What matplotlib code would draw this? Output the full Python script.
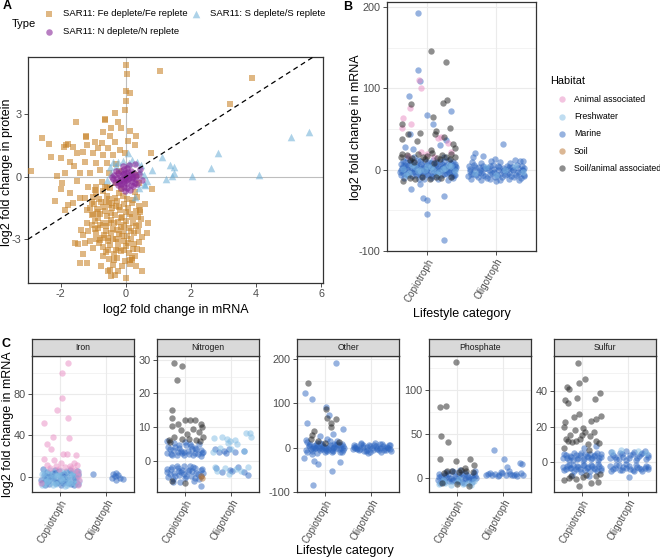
import matplotlib.pyplot as plt

plt.rcParams['font.family'] = ['Liberation Sans', 'DejaVu Sans']
plt.rcParams['axes.unicode_minus'] = False

W, H = 660, 558

# ---------------- panel A: protein vs mRNA fold change ----------------
fe_pts = [
    (0.0, 5.35), (0.05, 4.94), (1.04, 5.08), (3.87, 4.73), (3.19, 3.48), (0.0, 4.1), (0.12, 4.0),
    (0.02, 3.64), (-0.01, 3.2), (-0.34, 3.05), (-0.63, 2.77), (-1.53, 2.64), (-2.58, 1.85),
    (-2.91, 0.27), (-2.12, 0.03), (-2.17, -1.17), (-1.9, 1.44), (-1.77, 1.57), (-1.23, 1.92),
    (-1.41, -4.16), (-1.2, -4.12), (-0.56, -4.52), (-0.44, -4.77), (0.0, -4.86), (0.51, -4.52),
    (-1.48, -3.22), (-1.77, -1.36), (0.81, -0.59), (0.76, 1.12),
    (-0.64, 2.72), (-0.23, 2.64), (-0.44, 2.32), (-0.15, 2.32), (-0.69, 2.16), (0.12, 2.21),
    (-1.22, 1.96), (-0.49, 1.96), (0.31, 1.96), (-0.95, 1.68), (-0.74, 1.6), (-0.34, 1.68),
    (0.07, 1.73), (0.27, 1.52), (-1.82, 1.52), (-1.61, 1.44), (-1.2, 1.52), (-0.85, 1.36),
    (-0.54, 1.36), (-0.18, 1.28), (-1.51, 1.12), (-1.0, 1.12), (-0.69, 1.04), (-0.39, 1.04),
    (-0.03, 1.12), (-1.71, 0.72), (-1.26, 0.72), (-0.9, 0.64), (-0.59, 0.64), (-1.87, 0.16),
    (-1.41, 0.16), (-1.1, 0.16), (-0.8, 0.32), (-2.35, 1.55), (-2.0, 0.9), (-1.3, 1.2),
    (-0.3, 0.6), (-1.6, 0.5), (-2.3, 0.95),
    (-1.71, -0.8), (-1.41, -1.04), (-1.87, -1.6), (-1.61, -1.28), (-1.15, -0.48), (-0.9, -0.48),
    (-0.74, -0.24), (-0.59, -0.48), (-1.36, -2.56), (-1.56, -3.2), (-1.26, -3.2), (-1.31, -3.69),
    (-0.49, -4.49), (-0.34, -4.73), (0.12, -4.0), (0.33, -3.45), (0.65, -2.72), (0.68, -2.24),
    (0.43, -1.6), (-1.0, -1.8), (-1.2, -2.2), (-2.0, -0.6), (-1.95, -0.3), (-1.5, -0.2),
    (-1.05, -1.2),
    (-0.95, -0.62), (-0.71, -0.7), (-0.47, -0.55), (-0.22, -0.8), (0.28, -0.75),
    (-1.02, -0.95), (-0.83, -1.05), (-0.58, -0.9), (-0.33, -1.0), (-0.08, -0.92), (0.22, -1.1),
    (-0.97, -1.3), (-0.76, -1.22), (-0.52, -1.35), (-0.28, -1.18), (-0.04, -1.3), (0.18, -1.25),
    (0.41, -1.38), (-0.88, -1.55), (-0.63, -1.62), (-0.41, -1.48), (-0.17, -1.6), (0.06, -1.52),
    (0.3, -1.66), (-1.04, -1.85), (-0.79, -1.78), (-0.57, -1.9), (-0.33, -1.82), (-0.11, -1.95),
    (0.13, -1.8), (0.36, -1.92), (-0.93, -2.12), (-0.69, -2.2), (-0.46, -2.08), (-0.24, -2.18),
    (0.0, -2.1), (0.23, -2.22), (0.46, -2.05), (-0.84, -2.45), (-0.6, -2.38), (-0.39, -2.5),
    (-0.15, -2.4), (0.09, -2.48), (0.31, -2.35), (-0.9, -2.72), (-0.66, -2.8), (-0.44, -2.68),
    (-0.2, -2.75), (0.03, -2.85), (0.26, -2.7), (0.5, -2.9), (-0.79, -3.02), (-0.55, -3.1),
    (-0.31, -2.98), (-0.07, -3.08), (0.16, -3.0), (0.39, -3.12), (-0.69, -3.35), (-0.47, -3.28),
    (-0.24, -3.4), (0.0, -3.32), (0.21, -3.45), (-0.61, -3.62), (-0.37, -3.7), (-0.14, -3.58),
    (0.1, -3.68), (0.29, -3.8), (-0.5, -3.95), (-0.26, -3.88), (-0.02, -4.02), (0.19, -3.92),
    (-0.4, -4.22), (-0.12, -4.3), (0.14, -4.18),
    (-0.5, -1.05), (-0.3, -1.4), (-0.15, -2.0), (-0.6, -2.6), (-0.35, -2.2), (-0.1, -2.6),
    (-0.45, -1.75), (-0.7, -1.45), (-0.25, -3.15), (-0.55, -2.95), (0.05, -1.05), (-0.85, -2.0),
    (-0.9, -0.8), (0.35, -0.95), (0.45, -1.7), (-1.1, -1.5), (-1.15, -2.6), (-1.0, -3.4),
    (-0.82, -3.2), (0.25, -3.25), (-1.05, -2.3), (-1.25, -1.0),
    (-0.3, -0.3), (-0.5, 0.2), (-0.2, 0.3), (0.3, 0.1), (0.4, -0.3),
    (-0.62, -1.2), (-0.42, -1.25), (-0.2, -1.45), (0.0, -1.7), (0.2, -1.95), (-0.8, -2.3),
    (-0.52, -2.2), (-0.28, -2.55), (-0.05, -2.3), (0.15, -2.6), (0.38, -2.6), (-0.72, -2.95),
    (-0.4, -3.0), (-0.12, -2.85), (0.08, -3.2), (-0.55, -3.5), (-0.3, -3.5), (-0.05, -3.5),
    (0.2, -4.0), (-0.35, -4.0), (-0.7, -3.8), (-0.9, -3.0), (-0.95, -2.5), (0.42, -2.3),
    (0.5, -3.5), (-0.15, -0.6), (-0.65, -0.5), (-0.85, -1.7), (-1.2, -1.6), (-1.3, -2.8),
    (-1.1, -3.1), (0.6, -1.3), (-0.25, -4.5), (0.3, -4.3), (-0.75, -4.3),
]
s_pts = [
    (5.61, 2.16), (5.07, 1.89), (2.83, 1.16), (2.6, 0.43), (4.1, 0.08), (2.04, 0.03), (1.12, 0.96),
    (1.35, 0.56), (1.48, 0.45), (1.47, 0.2), (1.43, 0.05), (1.23, -0.13), (0.79, 0.32),
    (0.56, -0.37), (0.28, -0.96), (0.06, 1.15), (-0.39, 0.72), (-0.23, 0.72), (0.48, 0.56),
    (0.58, -0.4), (-0.59, -0.16), (-0.49, 0.48), (0.2, 0.8), (0.35, 0.7), (0.45, 0.3),
    (-0.3, 0.5), (-0.45, 0.2), (0.55, 0.1), (0.1, 0.65), (-0.1, 0.75), (0.4, -0.55), (0.65, -0.2),
]
n_pts = [
    (-0.35, 0.1), (-0.25, 0.2), (-0.15, 0.3), (-0.05, 0.35), (0.05, 0.4), (0.15, 0.3), (0.25, 0.2),
    (0.3, 0.05), (-0.38, -0.1), (-0.28, -0.05), (-0.18, 0.05), (-0.08, 0.12), (0.02, 0.18),
    (0.12, 0.1), (0.22, 0.0), (0.32, -0.1), (-0.32, -0.25), (-0.22, -0.18), (-0.12, -0.1),
    (-0.02, -0.05), (0.08, -0.12), (0.18, -0.2), (0.28, -0.28), (-0.25, -0.4), (-0.15, -0.35),
    (-0.05, -0.28), (0.05, -0.3), (0.15, -0.38), (0.22, -0.45), (-0.15, -0.55), (-0.05, -0.5),
    (0.05, -0.55), (0.12, -0.62), (-0.02, -0.7), (0.28, 0.62), (0.45, 0.35), (0.5, -0.15),
    (-0.42, 0.0), (0.1, 0.55), (-0.1, 0.5), (0.4, 0.15), (0.35, -0.35), (-0.3, 0.3), (0.0, 0.0),
    (0.1, -0.05), (-0.1, -0.2), (0.2, 0.15), (-0.2, -0.3), (0.0, -0.15), (0.18, -0.05),
    (-0.05, 0.2), (0.08, 0.25),
]
type_labels = ['SAR11: Fe deplete/Fe replete', 'SAR11: S deplete/S replete',
               'SAR11: N deplete/N replete']

# ---------------- panel B: mRNA change by lifestyle ----------------
lifestyles = ['Copiotroph', 'Oligotroph']
habitats = ['Animal associated', 'Freshwater', 'Marine', 'Soil', 'Soil/animal associated']

b_marine = [
    (0.62, -7), (0.69, -5), (0.77, -8), (0.84, -6), (0.92, -7.5), (0.99, -5.5), (1.07, -8),
    (1.14, -6.5), (1.22, -7), (1.29, -5), (1.36, -8), (1.41, -6),
    (0.6, -3), (0.66, -1), (0.73, -2.5), (0.81, -1.5), (0.88, -3.5), (0.95, -2), (1.02, -1),
    (1.1, -3), (1.17, -2), (1.24, -0.5), (1.31, -2.5), (1.39, -1.5),
    (0.63, 2), (0.7, 3.5), (0.78, 1.5), (0.85, 3), (0.93, 2.5), (1.0, 1), (1.08, 3.5), (1.15, 2),
    (1.23, 3), (1.3, 1.5), (1.37, 2.5), (1.42, 3),
    (0.61, 7), (0.68, 5.5), (0.76, 8), (0.83, 6), (0.91, 7.5), (0.98, 5), (1.06, 8.5), (1.13, 6.5),
    (1.21, 7), (1.28, 5.5), (1.35, 8), (1.41, 6.5),
    (0.64, 11), (0.74, 10), (0.86, 12), (0.96, 10.5), (1.09, 11.5), (1.18, 10), (1.32, 12),
    (0.65, -4), (0.72, -6.5), (0.8, -3.5), (0.87, -5), (0.94, -4), (1.01, -7), (1.09, -4.5),
    (1.16, -3.5), (1.24, -5.5), (1.32, -4), (1.39, -6.5),
    (0.62, 0), (0.7, 1), (0.77, -0.5), (0.84, 0.5), (0.91, -1), (0.98, 0), (1.05, 1.5),
    (1.12, -0.5), (1.2, 0.5), (1.27, -1), (1.34, 0), (1.41, 1),
    (0.65, 4.5), (0.72, 5.5), (0.8, 4), (0.88, 5), (0.95, 4), (1.03, 6), (1.11, 4.5), (1.19, 5),
    (1.26, 4), (1.33, 5.5), (1.4, 4.5),
    (0.67, 9), (0.79, 9.5), (0.9, 10), (1.01, 9), (1.13, 9.5), (1.24, 10), (1.37, 9.5),
    (0.7, 14), (0.95, -12), (1.15, -11), (1.3, -13), (0.66, -10), (1.38, -10), (0.88, -11),
    (1.05, -10), (0.8, 15), (1.25, 16),
    (0.87, 193), (0.86, 123), (0.9, 109), (0.73, 91), (1.34, 72), (1.0, 67.6), (1.09, 55.7),
    (0.75, 43.5), (1.27, 36.4), (0.79, 25.9), (0.76, -24.2), (0.93, -35), (1.0, -37), (0.99, -54),
    (1.25, -32.5), (1.25, -86), (0.9, -17.5), (1.18, 30), (0.68, 28),
    (1.6, -8), (1.67, -5), (1.74, -9), (1.81, -6), (1.88, -10), (1.95, -4), (2.02, -7), (2.09, -9),
    (2.16, -5), (2.23, -8), (2.3, -6), (2.37, -10), (2.42, -7),
    (1.62, -2), (1.69, 0), (1.76, -3), (1.83, 1), (1.9, -1), (1.97, -3), (2.04, 0), (2.11, -2),
    (2.18, 1), (2.25, -1), (2.32, -3), (2.39, 0),
    (1.61, 4), (1.68, 6), (1.75, 3), (1.82, 5), (1.89, 2), (1.96, 6), (2.03, 4), (2.1, 2),
    (2.17, 5), (2.24, 3), (2.31, 6), (2.38, 4), (2.42, 2),
    (1.64, -5), (1.71, -7), (1.78, -4), (1.85, -8), (1.92, -5), (1.99, -9), (2.06, -5),
    (2.13, -7), (2.2, -4), (2.27, -9), (2.34, -5), (2.41, -8),
    (1.63, 1), (1.7, 3), (1.77, 0), (1.84, 2), (1.91, 4), (1.98, 1), (2.05, 3), (2.12, -1),
    (2.19, 3), (2.26, 0), (2.33, 2), (2.4, -1),
    (1.65, 9), (1.79, 8), (1.93, 10), (2.07, 9), (2.21, 8), (2.35, 10),
    (1.64, -12), (1.78, -13), (1.92, -12), (2.06, -13), (2.2, -12), (2.34, -13), (2.0, -14),
    (2.11, 31), (1.7, 20.4), (1.82, 16.4), (1.67, 15.6), (1.99, 13), (2.28, 12), (2.4, 11),
]
b_fresh = [
    (0.64, 1), (0.73, -4), (0.82, 3), (0.9, -1), (0.99, 5), (1.08, 0), (1.17, -3), (1.26, 2),
    (1.35, 4), (0.69, -6), (0.78, 6), (0.87, -2), (0.96, 0), (1.05, 3), (1.14, -5), (1.23, 1),
    (1.32, 6), (1.4, -2),
    (1.7, -4), (1.86, 3), (2.0, -6), (2.14, -1), (2.28, 4), (2.4, -3),
]
b_animal = [
    (0.88, 110.7), (0.91, 100.4), (0.75, 76.2), (0.65, 64), (0.76, 56.6), (0.63, 51.7),
    (1.15, 38.6), (1.3, 33), (0.91, 21.8), (1.2, 40), (0.72, 17), (1.0, 19), (1.35, 22), (1.1, 15),
]
b_soil = []
b_soilanimal = [
    (1.05, 146), (1.28, 132), (0.76, 80.7), (1.23, 81.9), (1.29, 86), (1.08, 65), (0.63, 55.7),
    (1.33, 51), (1.12, 47.6), (0.72, 44.3), (0.9, 45), (1.11, 43.7), (0.63, 37.1), (0.85, 35.4),
    (1.24, 40.4), (1.38, 31.8), (1.4, 27), (1.05, 24.6), (0.63, 19),
    (0.62, 16), (0.7, 18), (0.78, 14), (0.86, 19), (0.93, 15), (1.0, 17), (1.07, 20), (1.14, 14),
    (1.21, 18), (1.28, 15), (1.35, 19), (1.41, 16), (0.74, 12), (0.97, 13), (1.18, 12.5),
    (1.33, 13), (0.64, -13.7), (0.75, -10), (0.92, -9), (1.04, -12), (1.12, -9.5), (1.2, -10.5),
    (1.35, -9), (0.82, -11), (0.8, 9), (1.1, 8),
]

# ---------------- panel C: by nutrient ----------------
nutrients = ['Iron', 'Nitrogen', 'Other', 'Phosphate', 'Sulfur']

iron_marine = [
    (0.62, -6), (0.7, -3), (0.78, -7), (0.86, -2), (0.94, -5), (1.02, -8), (1.1, -4), (1.18, -6),
    (1.26, -2), (1.34, -5), (1.4, -7), (0.66, 2), (0.74, 5), (0.82, 1), (0.9, 4), (0.98, 6),
    (1.06, 2), (1.14, 5), (1.22, 7), (1.3, 3), (1.38, 6), (0.64, 8), (0.76, 0), (0.88, -1),
    (1.0, 1), (1.12, -2), (1.24, 4), (1.36, 0),
    (0.6, -3), (0.68, -8), (0.76, -4), (0.84, 4), (0.92, -6), (1.0, -3), (1.08, -6), (1.16, 0),
    (1.24, -7), (1.32, -1), (1.4, 3), (0.7, 1), (0.9, 7), (1.1, 3), (1.3, -8),
    (1.72, 2.6), (2.12, -0.6), (2.21, 4.2), (2.24, 1.6), (2.3, -0.6), (2.21, -2.6), (2.36, -1.6),
    (2.15, 3.3), (2.18, 0.5),
]
iron_fresh = [
    (0.63, -8), (0.69, -1), (0.75, 3), (0.81, -5), (0.87, 0), (0.93, -7), (0.99, 2), (1.05, -3),
    (1.11, -9), (1.17, 1), (1.23, -6), (1.29, 3), (1.35, -2), (1.41, -4), (0.66, 5), (0.72, -4),
    (0.8, 7), (0.9, -6), (0.97, 4), (1.04, -1), (1.13, 6), (1.2, -4), (1.27, 1), (1.33, 5),
    (1.39, 2), (0.68, -7), (0.85, 2), (1.01, -5), (1.16, -8), (1.31, -6),
    (0.62, 3), (0.7, -5), (0.78, -2), (0.86, -8), (0.94, 1), (1.02, 6), (1.1, -1), (1.18, -5),
    (1.26, 5), (1.34, -7), (1.4, 6),
]
iron_animal = [
    (1.17, 110), (1.06, 100.6), (1.06, 76.5), (0.95, 64.3), (1.17, 57.2), (0.67, 52.4),
    (0.85, 38.6), (1.2, 37.9), (0.74, 31.5), (0.82, 27.4), (1.15, 22.5), (1.07, 22), (1.35, 21),
    (0.67, 17), (0.89, 16), (1.04, 13.5), (0.72, 12), (1.3, 13), (1.38, 12), (0.93, 11),
    (0.79, 9), (1.12, 10), (1.25, 9), (0.98, 8), (1.4, 5), (1.41, -3), (1.4, -8), (1.39, 1),
    (0.6, -6), (1.22, 11), (1.33, 7),
]

nitro_marine = [
    (0.62, 2.2), (0.68, 3.5), (0.74, 1.8), (0.8, 4.2), (0.86, 2.5), (0.92, 3.0), (0.98, 1.6),
    (1.04, 4.8), (1.1, 2.1), (1.16, 3.6), (1.22, 2.4), (1.28, 1.9), (1.34, 3.2), (1.4, 2.6),
    (0.65, 4.0), (0.71, 2.0), (0.77, 5.2), (0.83, 1.7), (0.89, 3.8), (0.95, 2.3), (1.01, 5.5),
    (1.07, 2.9), (1.13, 4.4), (1.19, 1.8), (1.25, 3.4), (1.31, 4.9), (1.37, 2.2),
    (0.63, 5.8), (0.75, 3.1), (0.87, 4.6), (0.99, 2.7), (1.11, 5.0), (1.23, 3.9), (1.35, 1.5),
    (0.62, -2.6), (0.68, -3.9), (0.74, -2.0), (0.8, -4.5), (0.86, -2.3), (0.92, -3.4),
    (0.98, -1.7), (1.04, -4.4), (1.1, -2.8), (1.16, -3.2), (1.22, -2.1), (1.28, -4.1),
    (1.34, -2.9), (1.4, -3.6), (0.65, -4.8), (0.71, -2.4), (0.77, -3.7), (0.83, -1.6),
    (0.89, -4.2), (0.95, -2.7), (1.01, -5.1), (1.07, -3.1), (1.13, -4.6), (1.19, -1.9),
    (1.25, -3.8), (1.31, -5.3), (1.37, -2.5), (0.63, -3.3), (0.75, -5.4), (0.87, -3.0),
    (0.99, -4.0), (1.11, -1.5), (1.23, -5.0), (1.35, -4.4),
    (1.35, -7.6), (0.9, -6.3), (0.75, -6.2), (1.2, -6.0),
    (1.66, 3.5), (1.73, 2.6), (1.84, 3.0), (1.95, 3.5), (2.07, 2.5), (2.26, 3.0), (1.68, -2.2),
    (1.8, -3.5), (1.98, -2.9), (2.26, -3.5), (2.15, -2.0), (1.88, 2.2), (2.35, -4.2), (2.02, -3.0),
]
nitro_fresh = [
    (1.63, 6.8), (1.8, 7.0), (1.9, 6.5), (1.98, 5.8), (2.07, 6.2), (2.31, 8.2), (2.39, 8.2),
    (2.42, 7.0), (1.92, 5.2), (2.12, 4.9), (1.61, 2.5), (1.75, 3.8), (2.0, 3.4), (2.27, 2.9),
    (1.66, -2.0), (1.87, -2.2), (2.1, -2.4), (2.36, -2.0), (1.7, -3.2), (1.95, -4.0), (2.2, -3.0),
]
nitro_soil = [(1.38, -5.2), (1.36, -4.5)]
nitro_soilanimal = [
    (0.77, 29.1), (0.94, 28.1), (0.83, 24.1), (0.73, 15.2), (0.72, 12.7), (1.0, 12.2),
    (1.12, 12.2), (1.23, 12.1), (1.36, 11), (1.38, 10), (0.72, 10.2), (0.85, 11), (0.92, 9),
    (1.05, 8), (1.18, 9.5), (1.3, 8.5), (0.78, 7), (1.1, 6.5), (1.4, 7), (0.66, 6), (0.95, 6.5),
    (1.25, 6.2), (0.72, -6), (1.0, -6.5), (0.68, 5.5), (1.33, 5.8),
]

other_marine = [
    (0.6, -5), (0.67, 3), (0.74, -8), (0.81, 6), (0.88, -2), (0.95, 9), (1.02, -6), (1.09, 2),
    (1.16, -10), (1.23, 5), (1.3, -3), (1.37, 8), (1.42, 0), (0.63, 12), (0.7, -4), (0.77, 4),
    (0.84, -12), (0.91, 10), (0.98, 1), (1.05, -7), (1.12, 14), (1.19, -1), (1.26, 7), (1.33, -9),
    (1.4, 3), (0.61, 18), (0.72, -14), (0.83, 11), (0.94, -3), (1.05, 20), (1.16, -6), (1.27, 15),
    (1.38, -11), (0.66, 6), (0.79, -2), (0.92, 0), (1.07, -4), (1.21, 2), (1.35, -1),
    (0.62, -9), (0.69, 7), (0.76, -1), (0.83, 2), (0.9, -6), (0.97, 4), (1.04, -2), (1.11, 5),
    (1.18, -8), (1.25, -1), (1.32, 6), (1.39, -5), (0.8, 0), (1.0, -10), (1.2, 9),
    (1.24, 191), (0.59, 123), (0.72, 109), (1.02, 91.8), (1.1, 73), (0.63, 56), (1.39, 42),
    (0.57, -23.8), (0.78, -31), (0.85, -36), (1.15, -52), (1.33, -33), (0.76, -85), (1.18, 30),
    (0.9, 25),
    (1.6, -3), (1.67, 4), (1.74, -6), (1.81, 2), (1.88, -8), (1.95, 6), (2.02, -1), (2.09, 3),
    (2.16, -5), (2.23, 8), (2.3, -2), (2.37, 5), (2.42, -7), (1.63, 6), (1.7, -4), (1.77, 9),
    (1.84, -7), (1.91, 1), (1.98, -9), (2.05, 5), (2.12, -3), (2.19, 7), (2.26, -6), (2.33, 2),
    (2.4, -4), (1.65, 0), (1.78, 11), (1.93, -12), (2.07, 10), (2.21, -10), (2.35, 0),
    (1.62, 2), (1.69, -1), (1.76, -4), (1.83, 5), (1.9, -5), (1.97, 3), (2.04, -6), (2.11, 0),
    (2.18, -2), (2.25, 4), (2.32, -5), (2.39, 6),
]
other_soilanimal = [
    (0.64, 145.5), (1.02, 86.6), (1.06, 67), (1.24, 65), (1.13, 55), (1.13, 47), (0.78, 37),
    (0.74, 29), (0.7, 20), (0.85, 15), (1.3, 12), (1.0, 10),
]

phos_marine = [
    (0.6, -3), (0.67, 2), (0.74, -5), (0.81, 4), (0.88, -1), (0.95, 6), (1.02, -4), (1.09, 1),
    (1.16, -6), (1.23, 3), (1.3, -2), (1.37, 5), (1.42, 0), (0.63, 4), (0.7, -2), (0.77, 1),
    (0.84, -4), (0.91, 7), (0.98, -1), (1.05, 3), (1.12, -5), (1.19, 5), (1.26, -3), (1.33, 2),
    (1.4, 8), (0.65, -6), (0.78, 6), (0.92, -3), (1.07, 9), (1.21, 0), (1.35, -1),
    (0.62, 1), (0.69, -5), (0.76, 3), (0.83, 0), (0.9, -4), (0.97, 2), (1.04, -3), (1.11, 4),
    (1.18, -2), (1.25, 1), (1.32, -5), (1.39, 2),
    (1.79, 31.3), (2.01, 21.7), (2.35, 17), (2.4, 16), (2.07, 11.6), (2.12, 8), (1.95, 6),
    (1.62, 3), (1.68, 4.5), (1.75, 2.5), (1.83, 4), (1.9, 3.2), (1.98, 5), (2.05, 2.8),
    (2.15, 4.2), (2.22, 3.5), (2.3, 2.2), (2.37, 4.8), (2.42, 3), (1.72, 5.5), (1.88, 2),
    (2.18, 2.6), (2.28, 3.9),
]
phos_fresh = [
    (0.62, -7), (0.75, -6), (0.88, -8), (1.0, -5), (1.13, -7), (1.25, -6), (1.38, -4), (0.7, -3),
    (1.05, -2), (1.3, -8),
]
phos_soilanimal = [
    (0.98, 131.7), (0.64, 80.9), (0.77, 81.6), (0.66, 47.7), (0.81, 40.8), (0.64, 21.7),
    (0.99, 19), (1.29, 21), (1.38, 14), (1.17, 10.5), (1.27, -9.6), (0.8, 8), (0.9, 7), (1.05, 6),
    (1.2, 8), (1.1, 9), (0.72, 5), (1.35, 6), (0.69, -6), (1.0, -7),
]

sulf_marine = [
    (0.6, 2.5), (0.66, 4.0), (0.72, 1.5), (0.78, 3.2), (0.84, 5.0), (0.9, 2.0), (0.96, 3.8),
    (1.02, 1.2), (1.08, 4.5), (1.14, 2.8), (1.2, 1.6), (1.26, 3.5), (1.32, 5.2), (1.38, 2.2),
    (1.42, 3.0), (0.63, 4.8), (0.69, 2.2), (0.75, 3.6), (0.81, 1.4), (0.87, 4.2), (0.93, 2.6),
    (0.99, 5.4), (1.05, 1.8), (1.11, 3.3), (1.17, 4.6), (1.23, 2.1), (1.29, 3.9), (1.35, 1.3),
    (1.41, 4.4),
    (0.6, -2.4), (0.66, -3.8), (0.72, -1.5), (0.78, -3.0), (0.84, -4.9), (0.9, -2.0),
    (0.96, -3.6), (1.02, -1.3), (1.08, -4.4), (1.14, -2.7), (1.2, -1.6), (1.26, -3.3),
    (1.32, -5.1), (1.38, -2.3), (1.42, -3.1), (0.63, -4.6), (0.69, -2.1), (0.75, -3.5),
    (0.81, -1.4), (0.87, -4.0), (0.93, -2.5), (0.99, -5.3), (1.05, -1.8), (1.11, -3.2),
    (1.17, -4.7), (1.23, -2.0), (1.29, -3.7), (1.35, -1.2), (1.41, -4.3),
    (1.05, 8), (1.3, 9), (0.8, -7), (1.15, -7.5),
    (1.6, 2.5), (1.67, 4.2), (1.74, 1.8), (1.81, 5.0), (1.88, 3.0), (1.95, 6.2), (2.02, 2.2),
    (2.09, 4.5), (2.16, 1.5), (2.23, 3.6), (2.3, 5.3), (2.37, 2.0), (2.42, 4.0), (1.63, 5.8),
    (1.71, 3.2), (1.79, 2.0), (1.87, 4.8), (1.95, 1.2), (2.03, 3.9), (2.11, 5.5), (2.19, 2.6),
    (2.27, 4.4), (2.35, 6.5), (2.41, 3.1),
    (1.6, -2.2), (1.67, -3.8), (1.74, -1.6), (1.81, -4.6), (1.88, -2.8), (1.95, -3.2),
    (2.02, -2.0), (2.09, -4.1), (2.16, -1.4), (2.23, -3.3), (2.3, -4.9), (2.37, -1.9),
    (2.42, -3.6), (1.63, -5.0), (1.71, -3.0), (1.79, -1.8), (1.87, -4.4), (1.95, -1.2),
    (2.03, -3.7), (2.11, -4.8), (2.19, -2.4), (2.27, -4.0), (2.35, -3.4), (2.41, -2.9),
    (2.01, -8.2),
]
sulf_fresh = [(1.65, 6), (2.2, 6.5), (2.38, 5), (1.85, 6.8)]
sulf_soilanimal = [
    (0.93, 55.9), (1.07, 46.9), (0.95, 44.7), (0.69, 42.2), (0.74, 41.3), (1.39, 38.9),
    (0.65, 34.8), (0.7, 33.1), (0.91, 36.2), (1.29, 35.3), (0.95, 27.3), (0.84, 25.4), (1.41, 26),
    (1.3, 24), (1.21, 23), (0.64, 22.4), (0.63, 20), (0.85, 18), (1.03, 19), (1.08, 17),
    (1.26, 17), (1.18, 14.5), (0.67, 13.3), (0.7, 12), (0.79, 11.5), (0.89, 12), (0.97, 13),
    (1.13, 10.5), (1.3, 12), (1.37, 11), (0.75, 15), (1.0, 15), (0.63, -9.7), (0.95, -13.3),
    (1.21, -11.6), (1.36, -11), (0.78, -7.5), (1.02, -8.5), (1.1, -7), (0.74, -9), (1.3, -8),
    (0.87, -9.5), (1.4, -6.5), (0.62, 8), (1.15, 7),
]

# ---------------- styling ----------------
hab_colors = {
    'Animal associated': '#E98BC2',
    'Freshwater': '#80BCE4',
    'Marine': '#2E66C0',
    'Soil': '#B8702A',
    'Soil/animal associated': '#1E1E1E',
}
TICK_COL = '#4D4D4D'
GRID_COL = '#EBEBEB'
TICK_FS = 7.8
XROT_FS = 7.1
DOT = 21


def px_box(left, top, right, bottom):
    return [left / W, 1 - bottom / H, (right - left) / W, (bottom - top) / H]


def dots(ax, pts, color, marker='o', size=DOT, alpha=0.5):
    if not pts:
        return
    xs, ys = zip(*pts)
    ax.scatter(xs, ys, s=size, c=color, marker=marker, alpha=alpha, linewidths=0, zorder=3)


def frame(ax):
    for sp in ax.spines.values():
        sp.set_color('#333333')
        sp.set_linewidth(0.9)
    ax.tick_params(which='major', length=2.8, width=0.6, color='#333333',
                   labelsize=TICK_FS, labelcolor=TICK_COL, pad=1.8)


def strip_axes(ax, ylim, major, minor):
    ax.set_xlim(0.41, 2.59)
    ax.set_ylim(*ylim)
    ax.set_xticks([1, 2])
    ax.set_xticklabels(lifestyles, rotation=60, ha='right', va='top', rotation_mode='anchor')
    ax.set_yticks(major)
    ax.set_yticks(minor, minor=True)
    ax.tick_params(which='minor', length=0)
    ax.grid(which='major', color=GRID_COL, lw=0.8)
    ax.grid(which='minor', axis='y', color=GRID_COL, lw=0.4)
    ax.set_axisbelow(True)
    frame(ax)
    ax.tick_params(axis='x', pad=1.5, labelsize=XROT_FS)


fig = plt.figure(figsize=(W / 100, H / 100), dpi=100)

# panel A
axA = fig.add_axes(px_box(28, 57, 323, 283))
axA.axhline(0, color='#BEBEBE', lw=0.8, zorder=1)
axA.axvline(0, color='#BEBEBE', lw=0.8, zorder=1)
axA.axline((0, 0), slope=1, color='black', lw=0.9, ls=(0, (4, 3)), zorder=4)
dots(axA, fe_pts, '#C8842A', marker='s', size=25, alpha=0.58)
dots(axA, s_pts, '#6BAED6', marker='^', size=30, alpha=0.55)
dots(axA, n_pts, '#8A2A9A', marker='o', size=22, alpha=0.6)
axA.set_xlim(-3.0, 6.05)
axA.set_ylim(-5.1, 5.75)
axA.set_xticks([-2, 0, 2, 4, 6])
axA.set_yticks([-3, 0, 3])
frame(axA)
axA.set_xlabel('log2 fold change in mRNA', fontsize=9, labelpad=3)

# panel B
axB = fig.add_axes(px_box(387, 2, 536, 251))
dots(axB, b_marine, hab_colors['Marine'])
dots(axB, b_fresh, hab_colors['Freshwater'])
dots(axB, b_animal, hab_colors['Animal associated'])
dots(axB, b_soil, hab_colors['Soil'])
dots(axB, b_soilanimal, hab_colors['Soil/animal associated'])
strip_axes(axB, (-100, 206), [-100, 0, 100, 200], [-50, 50, 150])
axB.set_xlabel('Lifestyle category', fontsize=9, labelpad=3)

# panel C
c_boxes = [(32, 134), (157, 259), (297, 399), (429, 531), (554, 656)]
c_limits = [(-14.5, 116.6), (-9.3, 31.1), (-100, 206), (-16.5, 139), (-16.7, 59.6)]
c_major = [[0, 40, 80], [0, 10, 20, 30], [-100, 0, 100, 200], [0, 50, 100], [0, 20, 40]]
c_minor = [[20, 60, 100], [-5, 5, 15, 25], [-50, 50, 150], [25, 75, 125], [-10, 10, 30, 50]]
c_groups = [
    [(iron_marine, 'Marine'), (iron_fresh, 'Freshwater'), (iron_animal, 'Animal associated')],
    [(nitro_marine, 'Marine'), (nitro_fresh, 'Freshwater'), (nitro_soil, 'Soil'),
     (nitro_soilanimal, 'Soil/animal associated')],
    [(other_marine, 'Marine'), (other_soilanimal, 'Soil/animal associated')],
    [(phos_marine, 'Marine'), (phos_fresh, 'Freshwater'),
     (phos_soilanimal, 'Soil/animal associated')],
    [(sulf_marine, 'Marine'), (sulf_fresh, 'Freshwater'),
     (sulf_soilanimal, 'Soil/animal associated')],
]
for i, name in enumerate(nutrients):
    l, r = c_boxes[i]
    ax = fig.add_axes(px_box(l, 356, r, 492))
    for pts, hab in c_groups[i]:
        dots(ax, pts, hab_colors[hab])
    strip_axes(ax, c_limits[i], c_major[i], c_minor[i])
    st = fig.add_axes(px_box(l, 339, r, 356))
    st.set_facecolor('#D9D9D9')
    st.set_xticks([])
    st.set_yticks([])
    for sp in st.spines.values():
        sp.set_color('#333333')
        sp.set_linewidth(0.9)
    st.text(0.5, 0.5, name, ha='center', va='center', fontsize=6.2, color='#1A1A1A',
            transform=st.transAxes)

# overlay for panel letters, shared labels and legends
ov = fig.add_axes([0, 0, 1, 1])
ov.set_xlim(0, W)
ov.set_ylim(H, 0)
ov.axis('off')
ov.text(3, 6, 'A', fontsize=9, fontweight='bold', ha='left', va='center')
ov.text(343, 7, 'B', fontsize=9, fontweight='bold', ha='left', va='center')
ov.text(2, 344, 'C', fontsize=9, fontweight='bold', ha='left', va='center')
ov.text(7, 172, 'log2 fold change in protein', fontsize=9, rotation=90,
        ha='center', va='center')
ov.text(356, 127, 'log2 fold change in mRNA', fontsize=9, rotation=90,
        ha='center', va='center')
ov.text(8, 424, 'log2 fold change in mRNA', fontsize=9, rotation=90, ha='center', va='center')
ov.text(345, 551, 'Lifestyle category', fontsize=9, ha='center', va='center')

ov.text(12, 24, 'Type', fontsize=8, ha='left', va='center')
ov.scatter([49], [14], s=25, marker='s', c='#C8842A', alpha=0.58, linewidths=0)
ov.scatter([196], [14], s=30, marker='^', c='#6BAED6', alpha=0.55, linewidths=0)
ov.scatter([49], [32], s=22, marker='o', c='#8A2A9A', alpha=0.6, linewidths=0)
ov.text(63, 14, type_labels[0], fontsize=6.8, ha='left', va='center')
ov.text(210, 14, type_labels[1], fontsize=6.8, ha='left', va='center')
ov.text(63, 32, type_labels[2], fontsize=6.8, ha='left', va='center')

ov.text(550, 81, 'Habitat', fontsize=7.8, ha='left', va='center')
for j, hab in enumerate(habitats):
    yy = [99.3, 116.7, 134, 151, 168.3][j]
    ov.scatter([562], [yy], s=DOT, c=hab_colors[hab], alpha=0.5, linewidths=0)
    ov.text(574, yy, hab, fontsize=6.3, ha='left', va='center')

fig.savefig('out.png', dpi=100)
